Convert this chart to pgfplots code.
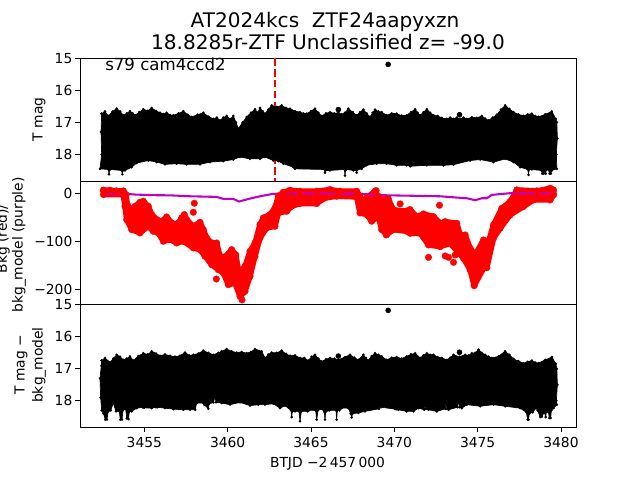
\documentclass[border=0pt]{standalone}
\usepackage{pgfplots}
\pgfplotsset{compat=1.18}
\usepackage{fontspec}
\setmainfont{DejaVu Sans}
\pgfplotsset{panel/.style={
  scale only axis, width=4.96in, height=1.23in, anchor=south west,
  xmin=3451.14, xmax=3480.9, axis line style={line width=0.7pt},
  major tick length=3.5pt, tick style={line width=0.7pt, black},
  tick align=outside, xtick pos=bottom, ytick pos=left,
  clip=true, ticklabel style={font=\fontsize{10}{12}\selectfont},
  /pgf/number format/assume math mode=true,
  /pgf/number format/set thousands separator={},
  yticklabel style={xshift=1.5pt}, xticklabel style={yshift=-0.5pt}
}}
\begin{document}
\begin{tikzpicture}[x=1in,y=1in]
\path[use as bounding box] (0,0) rectangle (6.4,4.8);
% top panel
\begin{axis}[panel, at={(0.8in,2.99in)}, y dir=reverse, ymin=14.99, ymax=18.83, ytick={15,16,17,18}, xtick=\empty]
\addplot[red, line width=1.5pt, dash pattern=on 5.5pt off 2.4pt, forget plot] coordinates {(3462.84,14.99) (3462.84,18.83)};
\addplot[black, fill=black, line width=0.5pt, line join=round, mark=*, mark size=0.9pt, mark options={fill=black, draw=black, line width=0.1pt}] coordinates {
(3452.44,16.73)(3452.64,16.66)(3452.84,16.80)(3453.1,16.66)(3453.34,16.57)(3453.55,16.66)(3453.74,16.78)(3453.95,16.72)(3454.14,16.65)(3454.3,16.72)(3454.44,16.78)(3454.7,16.68)(3454.94,16.59)(3455.2,16.64)(3455.44,16.55)(3455.7,16.64)(3455.94,16.70)(3456.15,16.74)(3456.34,16.70)(3456.55,16.77)(3456.74,16.78)(3457.05,16.72)(3457.34,16.65)(3457.6,16.76)(3457.84,16.83)(3458.2,16.76)(3458.54,16.70)(3458.85,16.82)(3459.14,16.89)(3459.35,16.85)(3459.54,16.94)(3459.74,16.85)(3459.94,16.80)(3460.14,16.9)(3460.34,16.80)(3460.5,17.0)(3460.64,17.2)(3460.9,17.0)(3461.14,16.83)(3461.4,16.7)(3461.64,16.59)(3461.8,16.7)(3461.94,16.55)
(3462.1,16.65)(3462.24,16.73)(3462.44,16.6)(3462.64,16.47)(3462.94,16.52)(3463.24,16.47)(3463.5,16.55)(3463.74,16.57)(3464.04,16.65)(3464.34,16.68)(3464.54,16.72)(3464.74,16.73)(3465.0,16.65)(3465.24,16.57)(3465.44,16.7)(3465.64,16.80)(3465.9,16.72)(3466.14,16.68)(3466.4,16.72)(3466.64,16.70)(3466.84,16.75)(3467.04,16.70)(3467.24,16.57)(3467.5,16.68)(3467.74,16.78)(3467.94,16.68)(3468.14,16.60)(3468.34,16.72)(3468.54,16.83)(3468.7,16.7)(3468.84,16.60)(3469.04,16.66)(3469.24,16.68)(3469.54,16.78)(3469.84,16.72)(3470.14,16.73)(3470.44,16.79)(3470.74,16.78)(3471.0,16.68)(3471.25,16.59)
(3471.4,16.7)(3471.55,16.78)(3471.75,16.68)(3471.95,16.59)(3472.15,16.7)(3472.35,16.78)(3472.6,16.8)(3472.85,16.86)(3473.15,16.89)(3473.35,16.85)(3473.55,16.89)(3473.75,16.85)(3473.95,16.89)(3474.15,16.85)(3474.35,16.89)(3474.65,16.84)(3474.95,16.86)(3475.25,16.80)(3475.45,16.88)(3475.65,16.94)(3475.9,16.85)(3476.15,16.76)(3476.4,16.6)(3476.65,16.47)(3476.9,16.58)(3477.15,16.68)(3477.45,16.75)(3477.75,16.80)(3478.0,16.75)(3478.25,16.73)(3478.45,16.8)(3478.65,16.83)(3479.05,16.75)(3479.45,16.66)(3479.69,16.89)
(3479.75,17.0)(3479.78,17.5)(3479.72,18.0)(3479.75,18.45)(3479.45,18.5)(3479.39,18.6)(3479.31,18.6)(3479.25,18.48)(3479.12,18.48)(3479.08,18.6)(3479.0,18.5)(3478.96,18.6)(3478.88,18.6)(3478.82,18.5)(3478.25,18.47)(3478.09,18.47)(3478.05,18.64)(3478.01,18.47)(3477.55,18.4)(3477.15,18.24)(3476.65,18.14)(3475.95,18.24)(3475.15,18.16)(3474.55,18.19)(3473.55,18.32)(3472.95,18.34)(3471.95,18.34)(3470.95,18.37)
(3470.74,18.34)(3470.14,18.34)(3469.54,18.29)(3468.94,18.29)(3468.34,18.34)(3468.04,18.45)(3467.78,18.48)(3467.74,18.57)(3467.7,18.48)(3467.54,18.5)(3467.14,18.47)(3467.08,18.47)(3467.04,18.66)(3467.0,18.47)(3466.14,18.5)(3465.88,18.5)(3465.84,18.57)(3465.8,18.47)(3464.04,18.45)(3463.94,18.4)(3463.34,18.29)(3463.04,18.21)(3462.74,18.19)(3462.24,18.08)(3461.94,18.14)
(3461.34,18.14)(3460.74,18.08)(3460.34,18.16)(3459.74,18.21)(3458.94,18.24)(3458.34,18.31)(3457.54,18.31)(3456.94,18.29)(3456.24,18.31)(3455.74,18.24)(3455.24,18.19)(3454.54,18.27)(3454.24,18.4)(3453.84,18.5)(3453.72,18.5)(3453.68,18.62)(3453.64,18.5)(3452.94,18.47)(3452.92,18.47)(3452.88,18.62)(3452.84,18.47)(3452.34,18.45)(3452.44,18.0)(3452.4,17.3)(3452.44,16.73)};
\addplot[only marks, mark=*, mark size=1.8pt, black] coordinates {(3469.63,15.19)(3466.64,16.6)(3473.91,16.76)};
\end{axis}
% middle panel
\begin{axis}[panel, at={(0.8in,1.76in)}, ymin=-230.6, ymax=27, ytick={-200,-100,0}, yticklabels={−200,−100,0}, xtick=\empty]
\addplot[red, fill=red, line width=4pt, line join=round, mark=*, mark size=2.4pt, mark options={fill=red, draw=red, line width=0.2pt}] coordinates {
(3452.55,7.7)(3452.94,7.7)(3453.34,6.3)(3453.74,6.3)(3453.90,-1.4)(3453.98,-22.4)(3454.14,-32.9)(3454.44,-25.9)(3454.74,-17.5)(3454.94,-15.4)(3455.24,-25.9)(3455.44,-43.3)(3455.74,-53.8)(3456.04,-57.3)(3456.34,-48.2)(3456.64,-60.8)(3456.84,-64.3)(3457.04,-60.8)(3457.24,-50.3)(3457.40,-43.3)(3457.54,-53.8)(3457.94,-67.8)(3458.34,-59.4)(3458.54,-74.8)(3458.74,-92.3)(3459.04,-102.8)(3459.34,-102.8)(3459.54,-130.7)(3459.84,-132.1)(3460.24,-116.7)(3460.48,-127.2)(3460.68,-165.7)(3461.04,-151.7)(3461.34,-120.2)(3461.64,-102.8)(3461.94,-64.3)
(3462.14,-50.3)(3462.54,-43.3)(3462.84,-29.4)(3463.04,-4.9)(3463.34,3.5)(3463.74,7.7)(3464.34,5.6)(3465.34,5.6)(3466.14,9.1)(3466.74,5.6)(3467.74,5.6)(3467.94,-4.9)(3468.14,-15.4)(3468.34,-8.4)(3468.84,5.6)(3469.04,-4.9)(3469.64,-10.5)(3469.94,-32.9)(3470.54,-36.4)(3470.94,-32.9)
(3471.35,-47.6)(3471.75,-42)(3472.35,-47.6)(3472.75,-61.6)(3473.05,-58.1)(3473.75,-61.6)(3473.95,-86)(3474.25,-86)(3474.55,-114)(3474.85,-128)(3475.35,-96.5)(3475.65,-100)(3475.95,-65)(3476.45,-30.1)(3476.95,-16.1)(3477.35,8.3)(3478.55,6.2)(3479.35,11.8)(3479.55,8.3)
(3479.55,-2.1)(3479.35,-12.6)(3478.35,-12.6)(3477.75,-26.6)(3476.95,-44.1)(3476.35,-72)(3475.95,-93)(3475.55,-154.5)(3475.35,-155.9)(3474.79,-192.3)(3474.55,-159.4)(3474.15,-135)(3473.35,-103.5)(3472.75,-110.5)(3472.05,-107)(3471.55,-82.5)(3470.95,-82.5)
(3470.74,-78.3)(3469.94,-74.8)(3469.54,-85.3)(3469.24,-74.8)(3469.04,-46.8)(3468.64,-57.3)(3468.34,-43.3)(3467.94,-39.9)(3467.74,-6.3)(3466.54,-4.9)(3465.84,-8.4)(3465.34,-20.3)(3464.34,-20.3)(3463.84,-25.9)(3463.54,-36.4)(3463.04,-39.9)(3462.84,-67.8)(3462.34,-71.3)(3461.94,-92.3)(3461.64,-130.7)
(3461.34,-172.7)(3461.04,-204.1)(3460.74,-214.6)(3460.44,-186.6)(3460.04,-190.1)(3459.74,-165.7)(3459.44,-158.7)(3459.04,-148.2)(3458.64,-130.7)(3458.34,-116.7)(3457.94,-113.2)(3457.34,-99.3)(3456.94,-102.8)(3456.54,-95.8)(3456.14,-99.3)(3455.84,-81.8)(3455.54,-78.3)(3455.24,-67.8)(3454.74,-81.8)(3454.24,-74.8)(3453.94,-53.8)(3453.84,-25.9)(3453.74,-1.4)(3452.55,-1.4)(3452.55,7.7)};
\addplot[only marks, mark=*, mark size=2.4pt, red, mark options={draw=red, fill=red, line width=0.2pt}] coordinates {(3458.0,-19.6)(3457.94,-38.5)(3459.32,-178.3)(3470.35,-21)(3472.71,-23.8)(3472.05,-132.9)(3473.05,-130)(3473.25,-132.9)(3473.55,-143.3)(3473.65,-128)(3468.91,7)(3469.51,-86)(3460.86,-222)};
\addplot[color={rgb,1:red,0.75;green,0;blue,0.78}, line width=1.5pt] coordinates {
(3452.44,0.7)(3453.74,0.5)(3454.5,-1.5)(3455.74,-2.8)(3456.5,-3)(3457.74,-5)(3459.34,-6.3)(3459.74,-10.5)(3460.34,-10.5)(3460.68,-16)(3461.34,-9.8)(3461.94,-5)(3462.64,-0.5)(3463.0,0.6)(3464.0,1)(3465.0,1)(3466.0,1)(3467.94,0)(3469.34,-2.8)(3471.5,-4.2)(3472.74,-5)(3473.75,-7.7)(3474.35,-9.1)(3474.85,-13.3)(3475.25,-9.1)(3475.55,-9.1)(3475.85,-2.1)(3476.95,1.5)(3478.0,1.2)(3479.74,1.2)};
\end{axis}
% bottom panel
\begin{axis}[panel, at={(0.8in,0.53in)}, y dir=reverse, ymin=14.97, ymax=18.82, ytick={15,16,17,18}, xtick={3455,3460,3465,3470,3475,3480}]
\addplot[black, fill=black, line width=0.5pt, line join=round, mark=*, mark size=0.9pt, mark options={fill=black, draw=black, line width=0.1pt}] coordinates {
(3452.44,16.74)(3452.64,16.66)(3452.94,16.8)(3453.14,16.68)(3453.34,16.56)(3453.54,16.62)(3453.74,16.72)(3453.94,16.68)(3454.14,16.61)(3454.34,16.74)(3454.64,16.6)(3454.94,16.51)(3455.2,16.55)(3455.44,16.45)(3455.7,16.52)(3455.94,16.59)(3456.24,16.55)(3456.54,16.59)(3456.84,16.62)(3457.14,16.59)(3457.44,16.49)(3457.7,16.58)(3457.94,16.56)(3458.24,16.52)(3458.54,16.43)(3458.84,16.5)(3459.14,16.56)(3459.44,16.5)(3459.64,16.45)(3459.94,16.38)(3460.24,16.45)(3460.54,16.49)(3460.84,16.47)(3461.14,16.51)(3461.4,16.47)(3461.64,16.38)
(3462.04,16.45)(3462.24,16.66)(3462.44,16.55)(3462.64,16.49)(3462.94,16.5)(3463.24,16.43)(3463.5,16.53)(3463.74,16.59)(3464.04,16.58)(3464.34,16.66)(3464.6,16.66)(3464.84,16.74)(3465.04,16.62)(3465.24,16.56)(3465.44,16.68)(3465.64,16.77)(3465.9,16.7)(3466.14,16.66)(3466.4,16.68)(3466.64,16.72)(3467.04,16.63)(3467.34,16.56)(3467.6,16.65)(3467.84,16.72)(3468.14,16.56)(3468.3,16.66)(3468.44,16.74)(3468.64,16.6)(3468.84,16.51)(3469.04,16.56)(3469.24,16.61)(3469.54,16.72)(3469.84,16.65)(3470.14,16.63)(3470.44,16.68)(3470.74,16.61)
(3471.0,16.55)(3471.25,16.51)(3471.55,16.66)(3471.75,16.58)(3471.95,16.51)(3472.15,16.56)(3472.35,16.56)(3472.6,16.63)(3472.85,16.66)(3473.15,16.72)(3473.35,16.65)(3473.55,16.56)(3473.9,16.62)(3474.25,16.56)(3474.45,16.58)(3474.65,16.51)(3474.85,16.5)(3475.05,16.40)(3475.25,16.5)(3475.45,16.56)(3475.65,16.62)(3475.85,16.66)(3476.25,16.61)(3476.65,16.45)(3476.9,16.56)(3477.15,16.69)(3477.45,16.76)(3477.75,16.82)(3478.0,16.78)(3478.25,16.74)(3478.45,16.8)(3478.65,16.82)(3479.05,16.72)(3479.45,16.63)(3479.69,16.84)
(3479.75,17.0)(3479.78,17.5)(3479.72,18.0)(3479.75,18.12)(3479.55,18.23)(3479.42,18.3)(3479.38,18.54)(3479.3,18.54)(3479.25,18.35)(3479.12,18.35)(3479.08,18.51)(3479.0,18.35)(3478.85,18.5)(3478.75,18.51)(3478.6,18.3)(3478.51,18.23)(3478.3,18.36)(3478.1,18.4)(3478.05,18.59)(3478.0,18.59)(3477.92,18.36)(3477.55,18.23)(3476.65,18.17)(3475.95,18.12)(3475.15,18.17)(3474.35,18.12)(3474.05,18.23)(3473.92,18.2)(3473.85,17.97)(3473.8,18.2)(3473.25,18.28)(3473.15,18.25)(3473.11,17.91)(3473.07,18.25)(3472.55,18.33)(3472.05,18.28)(3471.9,18.25)(3471.85,18.07)(3471.8,18.28)(3471.45,18.23)(3471.15,18.33)
(3470.74,18.33)(3470.24,18.28)(3470.12,18.26)(3470.08,18.07)(3470.04,18.26)(3469.2,18.2)(3469.14,18.12)(3469.08,18.25)(3468.24,18.33)(3467.84,18.38)(3467.5,18.4)(3467.44,18.52)(3467.38,18.4)(3467.24,18.23)(3466.84,18.23)(3466.7,18.3)(3466.58,18.3)(3466.54,18.59)(3466.5,18.3)(3466.1,18.3)(3465.88,18.35)(3465.84,18.59)(3465.8,18.35)(3465.64,18.25)(3465.42,18.3)(3465.34,18.59)(3465.28,18.3)(3464.88,18.3)(3464.84,18.07)(3464.8,18.33)(3464.42,18.33)(3464.34,18.64)(3464.28,18.33)(3464.04,18.33)(3463.88,18.33)(3463.84,18.51)(3463.8,18.3)(3463.44,18.15)(3463.14,18.23)(3462.74,18.09)(3462.24,18.12)(3461.84,18.12)(3461.34,18.15)
(3460.74,18.05)(3460.14,18.12)(3459.64,18.07)(3459.3,18.05)(3459.24,17.86)(3459.15,18.05)(3458.88,18.1)(3458.84,18.25)(3458.6,18.12)(3458.54,18.07)(3458.14,18.07)(3458.05,18.28)(3457.74,18.28)(3457.34,18.28)(3456.74,18.26)(3456.24,18.23)(3455.78,18.2)(3455.74,18.05)(3455.7,18.2)(3455.44,18.23)(3454.98,18.22)(3454.94,18.08)(3454.9,18.2)(3454.54,18.23)(3454.24,18.33)(3454.1,18.33)(3454.05,18.57)(3453.95,18.55)(3453.88,18.25)(3453.72,18.3)(3453.66,18.59)(3453.56,18.59)(3453.5,18.33)(3453.3,18.33)(3453.14,18.07)(3452.98,18.3)(3452.82,18.35)(3452.76,18.59)(3452.66,18.59)(3452.55,18.4)(3452.44,18.3)(3452.38,17.9)(3452.34,17.3)(3452.42,16.9)(3452.44,16.74)};
\addplot[only marks, mark=*, mark size=1.8pt, black] coordinates {(3469.63,15.17)(3466.64,16.6)(3473.91,16.48)};
\end{axis}
% texts
\node[font=\fontsize{14.5}{17}\selectfont] at (3.25,4.58) {AT2024kcs\ \ ZTF24aapyxzn};
\node[font=\fontsize{14.5}{17}\selectfont] at (3.28,4.38) {18.8285r-ZTF Unclassified z= -99.0};
\node[font=\fontsize{12}{14}\selectfont, anchor=base west, inner sep=0pt] at (1.05,4.09) {s79 cam4ccd2};
\node[font=\fontsize{10}{12}\selectfont, rotate=90] at (0.39,3.605) {T mag};
\node[font=\fontsize{10}{12}\selectfont, rotate=90] at (0.03,2.41) {Bkg (red)/};
\node[font=\fontsize{10}{12}\selectfont, rotate=90] at (0.19,2.35) {bkg\_model (purple)};
\node[font=\fontsize{10}{12}\selectfont, rotate=90] at (0.21,1.15) {T mag −};
\node[font=\fontsize{10}{12}\selectfont, rotate=90] at (0.39,1.15) {bkg\_model};
\node[font=\fontsize{10}{12}\selectfont] at (3.275,0.165) {BTJD −2\,457\,000};
\end{tikzpicture}
\end{document}
